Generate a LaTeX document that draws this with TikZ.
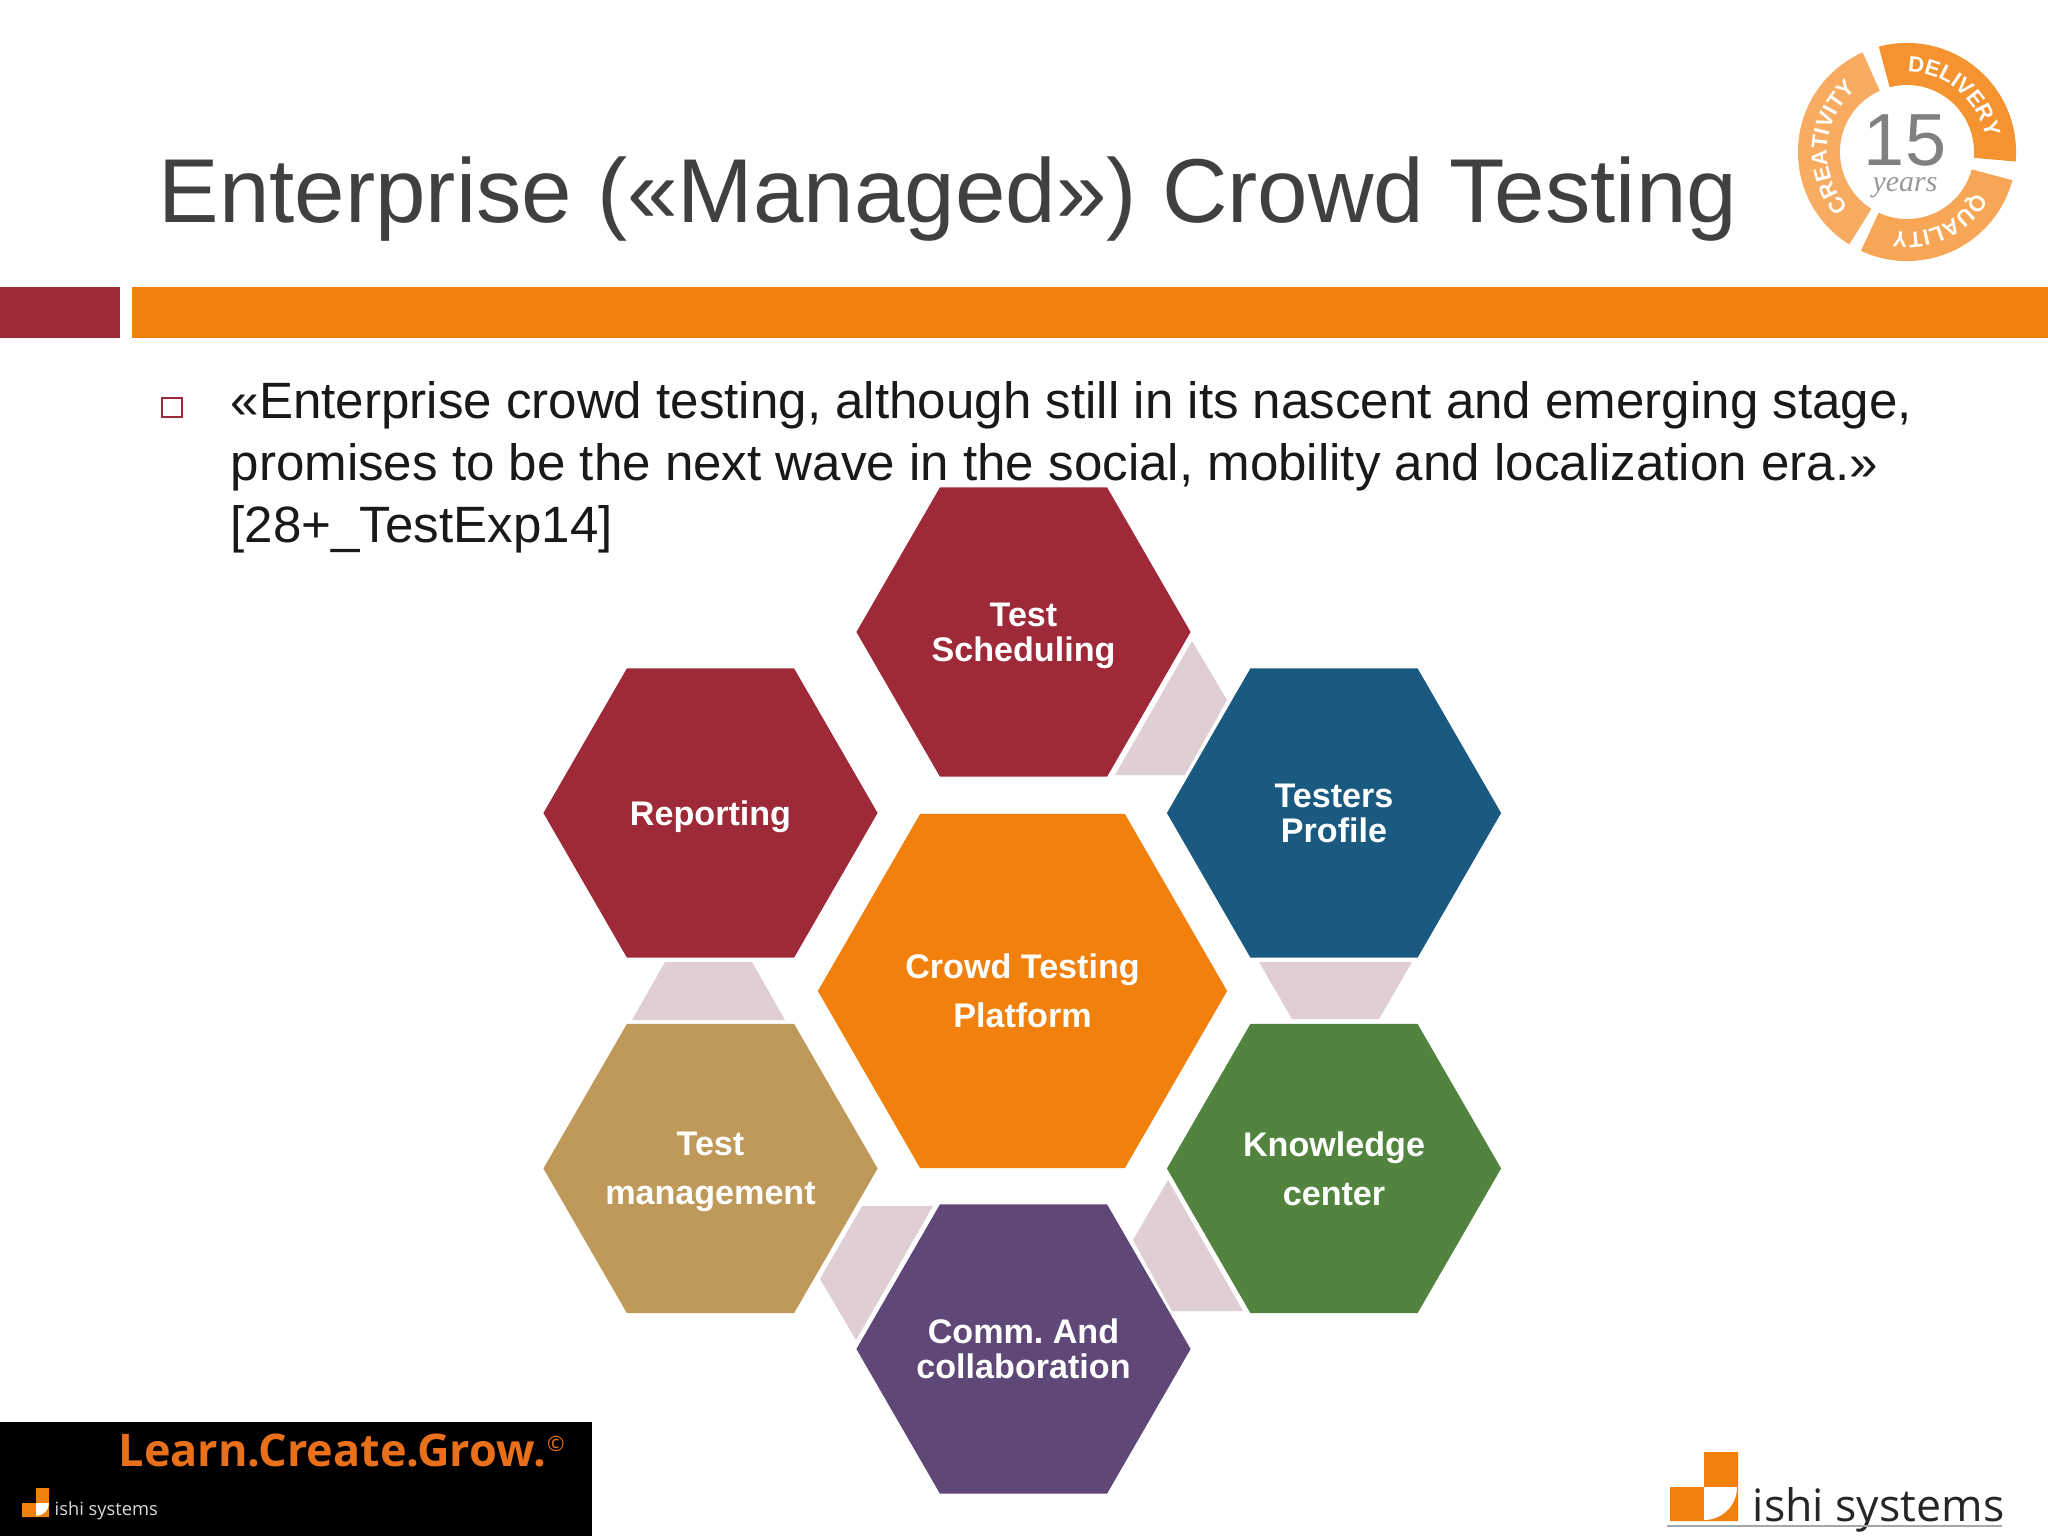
\documentclass[tikz,border=0pt]{standalone}
\usepackage{fontspec}
\setmainfont{Liberation Sans}
\newfontfamily\ishifont{Open Sans}
\newfontfamily\yearsfont{Liberation Serif}
\usetikzlibrary{shapes.geometric,decorations.text}
\definecolor{barred}{HTML}{9E2A39}
\definecolor{barorange}{HTML}{F2800C}
\definecolor{hexblue}{HTML}{1B5A80}
\definecolor{hexgreen}{HTML}{52843F}
\definecolor{hextan}{HTML}{BE995A}
\definecolor{hexpurple}{HTML}{5F4877}
\definecolor{linkpink}{HTML}{DFCFD3}
\definecolor{titlegray}{HTML}{404040}
\definecolor{tagorange}{HTML}{E8701A}
\tikzset{
    hexbox/.style={regular polygon, regular polygon sides=6, minimum size=3.34cm, inner sep=0pt, outer sep=0pt},
    hextext/.style={inner sep=0pt, text=white, align=center, text depth=0pt, font=\bfseries\fontsize{9.7}{10}\selectfont},
    loosetext/.style={hextext, font=\bfseries\fontsize{9.7}{14}\selectfont},
    linkshape/.style={fill=linkpink},
    ringtext/.style={decorate, decoration={text along path, text align=center, text color=white}}
}

\begin{document}
\begin{tikzpicture}[x=0.01cm, y=-0.01cm]
    \useasboundingbox[fill=white] (0,0) rectangle (2048,1536);
    \node[anchor=base west, inner sep=0pt, text=titlegray, font=\fontsize{25.8}{30}\selectfont] (title) at (158,222) {Enterprise («Managed») Crowd Testing};
    \fill[barred] (0,287) rectangle (120,338);
    \fill[barorange] (132,287) rectangle (2048,338);
    \draw[barred, line width=0.4pt] (162,398) rectangle (182,417);
    \node[anchor=base west, inner sep=0pt, align=left, text=black!90, font=\fontsize{14.53}{17.5}\selectfont] (quote) at (230,542) {«Enterprise crowd testing, although still in its nascent and emerging stage,\\promises to be the next wave in the social, mobility and localization era.»\\{}[28+\_TestExp14]};

    \fill[linkshape] (1192,641) -- (1227,700) -- (1185,775) -- (1115,775) -- cycle;
    \fill[linkshape] (1259,962) -- (1412,962) -- (1379,1019) -- (1292,1019) -- cycle;
    \fill[linkshape] (1168,1180) -- (1243,1311) -- (1172,1311) -- (1133,1240) -- cycle;
    \fill[linkshape] (862,1206) -- (933,1206) -- (856,1340) -- (820,1279) -- cycle;
    \fill[linkshape] (665,962) -- (752,962) -- (785,1020) -- (632,1020) -- cycle;

    \node[hexbox, fill=barred] (sched) at (1023.5,632) {};
    \node[hexbox, fill=hexblue] (testers) at (1334,813) {};
    \node[hexbox, fill=hexgreen] (know) at (1334,1168.5) {};
    \node[hexbox, fill=hexpurple] (comm) at (1023.5,1349) {};
    \node[hexbox, fill=hextan] (mgmt) at (710.5,1168.5) {};
    \node[hexbox, fill=barred] (report) at (710.5,813) {};
    \node[hexbox, fill=barorange, minimum size=4.09cm] (platform) at (1022.5,991) {};
    \node[hextext] (schedtext) at (sched) {Test\\Scheduling};
    \node[hextext] (testerstext) at (testers) {Testers\\Profile};
    \node[loosetext] (knowtext) at (know) {Knowledge\\center};
    \node[hextext] (commtext) at (comm) {Comm.\ And\\collaboration};
    \node[loosetext] (mgmttext) at (mgmt) {Test\\management};
    \node[hextext] (reporttext) at (report) {Reporting};
    \node[loosetext] (platformtext) at (platform) {Crowd Testing\\Platform};

    \begin{scope}[shift={(1907,152)}, x=1cm, y=1cm]
        \foreach \from/\to/\shade in {105/-5/85, -15/-115/70, 238/114/65}
            \fill[barorange!\shade!white] (\from:1.09) arc[start angle=\from, end angle=\to, radius=1.09] -- (\to:0.67) arc[start angle=\to, end angle=\from, radius=0.67] -- cycle;
        \path[ringtext, decoration={text={|\bfseries\fontsize{6.3}{7}\selectfont|DELIVERY}}] (100:0.8) arc[start angle=100, end angle=0, radius=0.8];
        \path[ringtext, decoration={text={|\bfseries\fontsize{6.3}{7}\selectfont|QUALITY}}] (-15:0.8) arc[start angle=-15, end angle=-115, radius=0.8];
        \path[ringtext, decoration={text={|\bfseries\fontsize{6.3}{7}\selectfont|CREATIVITY}}] (238:0.8) arc[start angle=238, end angle=114, radius=0.8];
    \end{scope}
    \node[text=black!50, font=\fontsize{21}{24}\selectfont, inner sep=0pt] (fifteen) at (1905,140) {15};
    \node[text=black!40, font=\yearsfont\itshape\fontsize{8.5}{9}\selectfont, inner sep=0pt] (years) at (1905,188) {years};

    \fill[black] (0,1422) rectangle (592,1536);
    \node[anchor=base west, inner sep=0pt, text=tagorange, font=\ishifont\bfseries\fontsize{12.8}{14}\selectfont] (tagline) at (118,1466) {Learn.Create.Grow.};
    \node[anchor=center, inner sep=0pt, text=tagorange, font=\ishifont\fontsize{6}{7}\selectfont] (copy) at (556,1444) {©};
    \fill[barorange] (36,1488) rectangle (49,1503) (22,1503) rectangle (49,1517);
    \fill[white] (36,1503) -- (49,1503) arc[start angle=0, end angle=90, radius=13] -- cycle;
    \node[anchor=base west, inner sep=0pt, text=white!85!black, font=\ishifont\fontsize{5.2}{6}\selectfont] (ishismall) at (54,1515) {ishi systems};

    \fill[barorange] (1704,1452) rectangle (1738,1487) (1670,1487) rectangle (1738,1521);
    \fill[white] (1704,1487) -- (1737,1487) arc[start angle=0, end angle=90, radius=33] -- cycle;
    \node[anchor=base west, inner sep=0pt, text=black!85, font=\ishifont\fontsize{12.7}{15}\selectfont] (ishi) at (1752,1521) {ishi systems};
    \draw[black!35, line width=0.3pt] (1667,1526) -- (2002,1526);
\end{tikzpicture}
\end{document}
